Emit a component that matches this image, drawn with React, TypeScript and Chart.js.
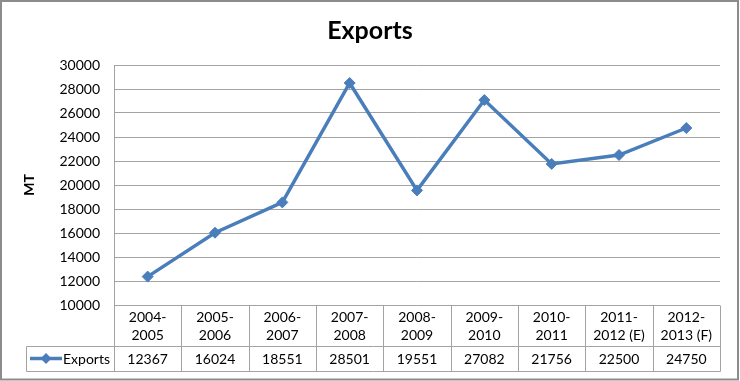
import React, { useEffect, useRef } from "react";
import { Chart, registerables } from "chart.js";

Chart.register(...registerables);

const categories: string[][] = [
  ["2004-", "2005"],
  ["2005-", "2006"],
  ["2006-", "2007"],
  ["2007-", "2008"],
  ["2008-", "2009"],
  ["2009-", "2010"],
  ["2010-", "2011"],
  ["2011-", "2012 (E)"],
  ["2012-", "2013 (F)"],
];
const exportsValues: number[] = [12367, 16024, 18551, 28501, 19551, 27082, 21756, 22500, 24750];
const seriesName = "Exports";
const chartTitle = "Exports";
const yTitle = "MT";
const yMin = 10000;
const yMax = 30000;
const yStep = 2000;

const FONT = "Lato";
const LINE_COLOR = "#4A7EBB";
const GRID_COLOR = "#a3a3a3";

const tablePlugin = {
  id: "dataTable",
  afterDraw(chart: any) {
    const ctx = chart.ctx as CanvasRenderingContext2D;
    const area = chart.chartArea;
    const xs = chart.scales.x;
    const n = categories.length;
    const colW = (area.right - area.left) / n;
    const top = area.bottom;
    const mid = top + 41;
    const bot = top + 66;
    const legendLeft = 26;
    const al = (v: number) => Math.round(v) + 0.5;

    ctx.save();
    // title
    ctx.fillStyle = "#000";
    ctx.font = `bold 25px ${FONT}`;
    ctx.textAlign = "center";
    ctx.textBaseline = "middle";
    ctx.fillText(chartTitle, chart.width / 2, 31);

    ctx.strokeStyle = GRID_COLOR;
    ctx.lineWidth = 1;
    ctx.beginPath();
    ctx.moveTo(al(legendLeft), al(mid));
    ctx.lineTo(al(area.right), al(mid));
    ctx.moveTo(al(legendLeft), al(bot));
    ctx.lineTo(al(area.right), al(bot));
    ctx.moveTo(al(legendLeft), al(mid));
    ctx.lineTo(al(legendLeft), al(bot));
    for (let i = 0; i <= n; i++) {
      const x = al(area.left + i * colW);
      ctx.moveTo(x, al(top));
      ctx.lineTo(x, al(bot));
    }
    ctx.stroke();

    ctx.fillStyle = "#000";
    ctx.font = `14px ${FONT}`;
    ctx.textAlign = "center";
    ctx.textBaseline = "middle";
    categories.forEach((lines, i) => {
      const cx = xs.getPixelForValue(i);
      ctx.fillText(lines[0], cx, top + 12);
      ctx.fillText(lines[1], cx, top + 30);
      ctx.fillText(String(exportsValues[i]), cx, (mid + bot) / 2 + 0.5);
    });

    const ly = (mid + bot) / 2;
    ctx.strokeStyle = LINE_COLOR;
    ctx.lineWidth = 3.5;
    ctx.beginPath();
    ctx.moveTo(30, ly);
    ctx.lineTo(62, ly);
    ctx.stroke();
    ctx.fillStyle = LINE_COLOR;
    ctx.beginPath();
    const r = 5.5;
    ctx.moveTo(46, ly - r);
    ctx.lineTo(46 + r, ly);
    ctx.lineTo(46, ly + r);
    ctx.lineTo(46 - r, ly);
    ctx.closePath();
    ctx.fill();
    ctx.fillStyle = "#000";
    ctx.textAlign = "left";
    ctx.fillText(seriesName, 63, ly + 0.5);

    ctx.strokeStyle = "#8c8c8c";
    ctx.lineWidth = 2;
    ctx.strokeRect(1, 1, chart.width - 3, chart.height - 2.5);
    ctx.restore();
  },
};

export default function App() {
  const ref = useRef<HTMLCanvasElement | null>(null);
  useEffect(() => {
    document.body.style.margin = "0";
    const canvas = ref.current;
    if (!canvas) return;
    const chart = new Chart(canvas, {
      type: "line",
      data: {
        labels: categories.map((c) => c.join(" ")),
        datasets: [
          {
            label: seriesName,
            data: exportsValues,
            borderColor: LINE_COLOR,
            backgroundColor: LINE_COLOR,
            borderWidth: 3.5,
            pointStyle: "rectRot",
            pointRadius: 5.5,
            pointBorderWidth: 1,
            pointBackgroundColor: LINE_COLOR,
            pointBorderColor: LINE_COLOR,
            tension: 0,
          },
        ],
      },
      options: {
        responsive: false,
        animation: false,
        devicePixelRatio: 1,
        layout: { padding: { top: 65, left: 0, right: 20, bottom: 76 } },
        plugins: {
          legend: { display: false },
          tooltip: { enabled: false },
          title: { display: false },
        },
        scales: {
          x: {
            type: "category",
            display: false,
            offset: true,
          },
          y: {
            min: yMin,
            max: yMax,
            afterFit: (s: any) => {
              s.width = 114;
            },
            ticks: {
              stepSize: yStep,
              color: "#000",
              font: { family: FONT, size: 14 },
              padding: 14,
              callback: (v: any) => String(v),
            },
            grid: { color: GRID_COLOR, drawTicks: false, lineWidth: 1 },
            border: { color: GRID_COLOR, width: 1 },
            title: {
              display: true,
              text: yTitle,
              color: "#000",
              font: { family: FONT, size: 14, weight: "bold" },
              padding: { top: 21, bottom: 0 },
            },
          },
        },
      },
      plugins: [tablePlugin],
    });
    return () => chart.destroy();
  }, []);
  return <canvas ref={ref} width={740} height={381} style={{ display: "block" }} />;
}
